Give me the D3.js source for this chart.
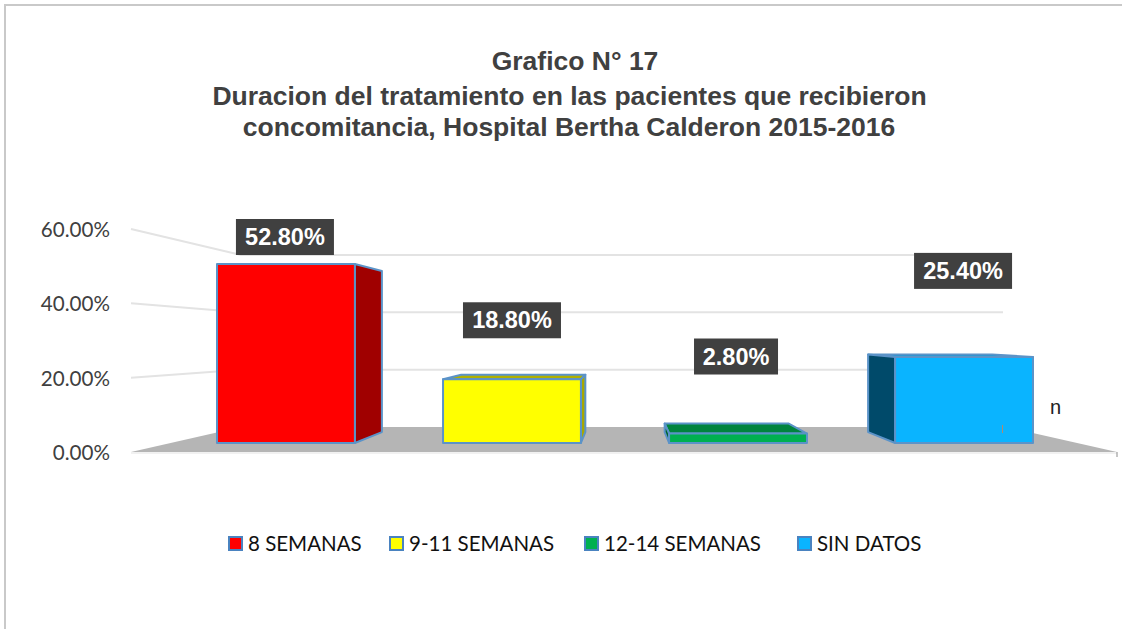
<!DOCTYPE html>
<html>
<head>
	<meta charset="utf-8">
	<script src="https://cdn.jsdelivr.net/npm/d3@7"></script>
	<style>
		html, body { margin: 0; padding: 0; background: #fff; }
		svg { display: block; }
	</style>
</head>
<body>
	<div id="chart"></div>

	<script>
		// Data
		var categories = ["8 SEMANAS", "9-11 SEMANAS", "12-14 SEMANAS", "SIN DATOS"];
		var values = [52.8, 18.8, 2.8, 25.4];
		var ticks = [0, 20, 40, 60];
		var titleLines = [
			"Grafico N° 17",
			"Duracion del tratamiento en las pacientes que recibieron",
			"concomitancia, Hospital Bertha Calderon 2015-2016"
		];

		var front = ["#ff0000", "#ffff00", "#00b050", "#0ab4ff"];
		var side = ["#a00000", "#a8a800", "#00622f", "#004a6a"];
		var topFace = ["#c00000", "#b0b000", "#00843e", "#0798d8"];
		var edge = "#5b93c8";

		// data labels were moved by hand in the original, so offsets from the bar
		var labelDx = [-1, 0, -2, -1];
		var labelDy = [-27, -59, -77, -86];

		// title lines are not quite centred on each other in the original
		var titleX = [575, 569.5, 569];
		var titleBase = [70, 105, 136];
		var legendX = [229, 390, 585, 798];

		var width = 1122,
			height = 629;

		var svg = d3.select("#chart").append("svg")
			.attr("width", width)
			.attr("height", height);

		svg.append("defs").append("filter")
			.attr("id", "soft")
			.append("feGaussianBlur")
			.attr("stdDeviation", 0.5);

		// Chart frame, only top and left are in the picture
		svg.append("path")
			.attr("d", "M5,629V5H1122")
			.attr("fill", "none")
			.attr("stroke", "#c9c9c9")
			.attr("stroke-width", 2);

		// Scales: left axis, back wall and bar fronts have their own
		var yAxis = d3.scaleLinear().domain([0, 60]).range([452, 229]);
		var yWall = d3.scaleLinear().domain([0, 60]).range([427, 255]);
		var yBar = d3.scaleLinear().domain([0, 60]).range([443, 239.6]);
		var x = d3.scaleBand()
			.domain(categories)
			.range([217, 1033])
			.paddingInner(0.39)
			.paddingOuter(0);

		var floorLeft = 131, floorRight = 1117, wallLeft = 241, wallRight = 1006;

		// vanishing point of the bars' depth
		var vx = 625, vy = 334, depth = 0.9;
		function back(p) {
			return [vx + (p[0] - vx) * depth, vy + (p[1] - vy) * depth];
		}
		function poly(points) {
			return points.map(function(p) { return p.join(","); }).join(" ");
		}

		var plot = svg.append("g");

		// Floor
		plot.append("polygon")
			.attr("points", poly([
				[floorLeft, yAxis(0)], [wallLeft, yWall(0)],
				[wallRight, yWall(0)], [floorRight, yAxis(0)]
			]))
			.attr("fill", "#b5b5b5")
			.attr("filter", "url(#soft)");

		plot.append("line")
			.attr("x1", floorLeft).attr("x2", floorRight)
			.attr("y1", yAxis(0) + 1).attr("y2", yAxis(0) + 1)
			.attr("stroke", "#ececec")
			.attr("stroke-width", 1.5);

		plot.append("line")
			.attr("x1", floorRight).attr("x2", floorRight)
			.attr("y1", yAxis(0)).attr("y2", yAxis(0) + 5)
			.attr("stroke", "#8c8c8c");

		// Gridlines
		plot.selectAll(".grid")
			.data(ticks.filter(function(d) { return d > 0; }))
			.enter().append("polyline")
			.attr("class", "grid")
			.attr("points", function(d) {
				return poly([[floorLeft, yAxis(d)], [wallLeft, yWall(d)], [wallRight - 3, yWall(d)]]);
			})
			.attr("fill", "none")
			.attr("stroke", "#e3e3e3")
			.attr("stroke-width", 2)
			.attr("filter", "url(#soft)");

		// Tick labels
		svg.selectAll(".tick")
			.data(ticks)
			.enter().append("text")
			.attr("class", "tick")
			.attr("x", 110)
			.attr("y", function(d) { return yAxis(d) + 8; })
			.attr("text-anchor", "end")
			.attr("font-family", "Lato")
			.attr("font-size", 20.6)
			.attr("fill", "#404040")
			.text(function(d) { return d3.format(".2f")(d) + "%"; });

		// Bars
		var bar = plot.selectAll(".bar")
			.data(categories)
			.enter().append("g")
			.attr("class", "bar")
			.attr("stroke", edge)
			.attr("stroke-width", 2)
			.attr("stroke-linejoin", "round");

		bar.each(function(c, i) {
			var g = d3.select(this);
			var x0 = x(c), x1 = x(c) + x.bandwidth();
			var y0 = yBar(0), y1 = yBar(values[i]);

			// only the faces turned towards the viewer
			if (y1 > vy) {
				g.append("polygon")
					.attr("points", poly([[x0, y1], [x1, y1], back([x1, y1]), back([x0, y1])]))
					.attr("fill", topFace[i]);
			}
			if (x1 < vx) {
				g.append("polygon")
					.attr("points", poly([[x1, y1], back([x1, y1]), back([x1, y0]), [x1, y0]]))
					.attr("fill", side[i]);
			}
			if (x0 > vx) {
				g.append("polygon")
					.attr("points", poly([[x0, y1], back([x0, y1]), back([x0, y0]), [x0, y0]]))
					.attr("fill", side[i]);
			}
			g.append("rect")
				.attr("x", x0)
				.attr("y", y1)
				.attr("width", x.bandwidth())
				.attr("height", y0 - y1)
				.attr("fill", front[i]);
		});

		// Data labels
		var label = svg.selectAll(".label")
			.data(categories)
			.enter().append("g")
			.attr("class", "label")
			.attr("transform", function(c, i) {
				return "translate(" + (x(c) + x.bandwidth() / 2 + labelDx[i]) + "," + (yBar(values[i]) + labelDy[i]) + ")";
			});

		label.append("rect")
			.attr("x", function(c, i) { return values[i] < 10 ? -42 : -49; })
			.attr("y", -18)
			.attr("width", function(c, i) { return values[i] < 10 ? 84 : 98; })
			.attr("height", 36)
			.attr("fill", "#404040");

		label.append("text")
			.attr("y", 8)
			.attr("text-anchor", "middle")
			.attr("font-family", "Liberation Sans")
			.attr("font-weight", "bold")
			.attr("font-size", 23.5)
			.attr("fill", "#fff")
			.text(function(c, i) { return d3.format(".2f")(values[i]) + "%"; });

		// Title
		svg.selectAll(".title")
			.data(titleLines)
			.enter().append("text")
			.attr("class", "title")
			.attr("x", function(d, i) { return titleX[i]; })
			.attr("y", function(d, i) { return titleBase[i]; })
			.attr("text-anchor", "middle")
			.attr("font-family", "Liberation Sans")
			.attr("font-weight", "bold")
			.attr("font-size", 26.5)
			.attr("fill", "#404040")
			.text(function(d) { return d; });

		// Legend
		var legend = svg.selectAll(".legend")
			.data(categories)
			.enter().append("g")
			.attr("class", "legend")
			.attr("transform", function(c, i) { return "translate(" + legendX[i] + ",537)"; });

		legend.append("rect")
			.attr("width", 13)
			.attr("height", 13)
			.attr("fill", function(c, i) { return front[i]; })
			.attr("stroke", "#4a83c0")
			.attr("stroke-width", 2);

		legend.append("text")
			.attr("x", 19)
			.attr("y", 14)
			.attr("font-family", "Lato")
			.attr("font-size", 20.5)
			.attr("fill", "#111")
			.text(function(c) { return c; });

		// stray marks from the source image
		svg.append("text")
			.attr("x", 1050)
			.attr("y", 414)
			.attr("font-family", "Liberation Sans")
			.attr("font-size", 20)
			.attr("fill", "#222")
			.text("n");

		svg.append("line")
			.attr("x1", 1002.5).attr("x2", 1002.5)
			.attr("y1", 425).attr("y2", 433)
			.attr("stroke", "#b08a70");
	</script>
</body>
</html>
